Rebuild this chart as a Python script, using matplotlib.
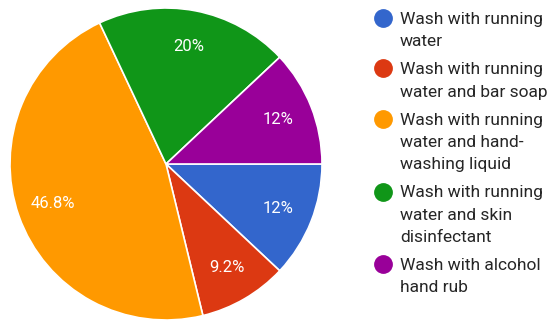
import matplotlib.pyplot as plt
from matplotlib.lines import Line2D

plt.rcParams['font.family'] = ['Roboto', 'DejaVu Sans']

labels = [
    "Wash with running\nwater",
    "Wash with running\nwater and bar soap",
    "Wash with running\nwater and hand-\nwashing liquid",
    "Wash with running\nwater and skin\ndisinfectant",
    "Wash with alcohol\nhand rub",
]
shares = [12, 9.2, 46.8, 20, 12]
colors = ["#3366cc", "#dc3912", "#ff9900", "#109618", "#990099"]

W, H = 549, 324
fig = plt.figure(figsize=(W / 100, H / 100), dpi=100)

# pie: centre (166, 164) px, radius 156 px
cx, cy, r = 166, 164, 156
ax = fig.add_axes([(cx - r) / W, (H - cy - r) / H, 2 * r / W, 2 * r / H])


def pct(p):
    return f"{p:.1f}".rstrip('0').rstrip('.') + "%"


wedges, texts, autotexts = ax.pie(
    shares, colors=colors, startangle=0, counterclock=False,
    autopct=pct, pctdistance=0.77,
    wedgeprops=dict(edgecolor="white", linewidth=1.2),
    textprops=dict(color="white", fontsize=12),
)
ax.set_xlim(-1, 1)
ax.set_ylim(-1, 1)
ax.set_aspect('equal')
ax.axis('off')

# legend drawn by hand, one text per line
y = 18
line_h = 22
for lab, col in zip(labels, colors):
    fig.add_artist(Line2D([383 / W], [1 - y / H], marker='o', markersize=12.5,
                          color=col, linestyle='none', transform=fig.transFigure))
    lines = lab.split("\n")
    for k, ln in enumerate(lines):
        fig.text(400 / W, 1 - (y + k * line_h) / H, ln, ha='left', va='center_baseline',
                 fontsize=12.5, color="#262626")
    y += len(lines) * line_h + 6.5

fig.savefig("out.png", dpi=100)
